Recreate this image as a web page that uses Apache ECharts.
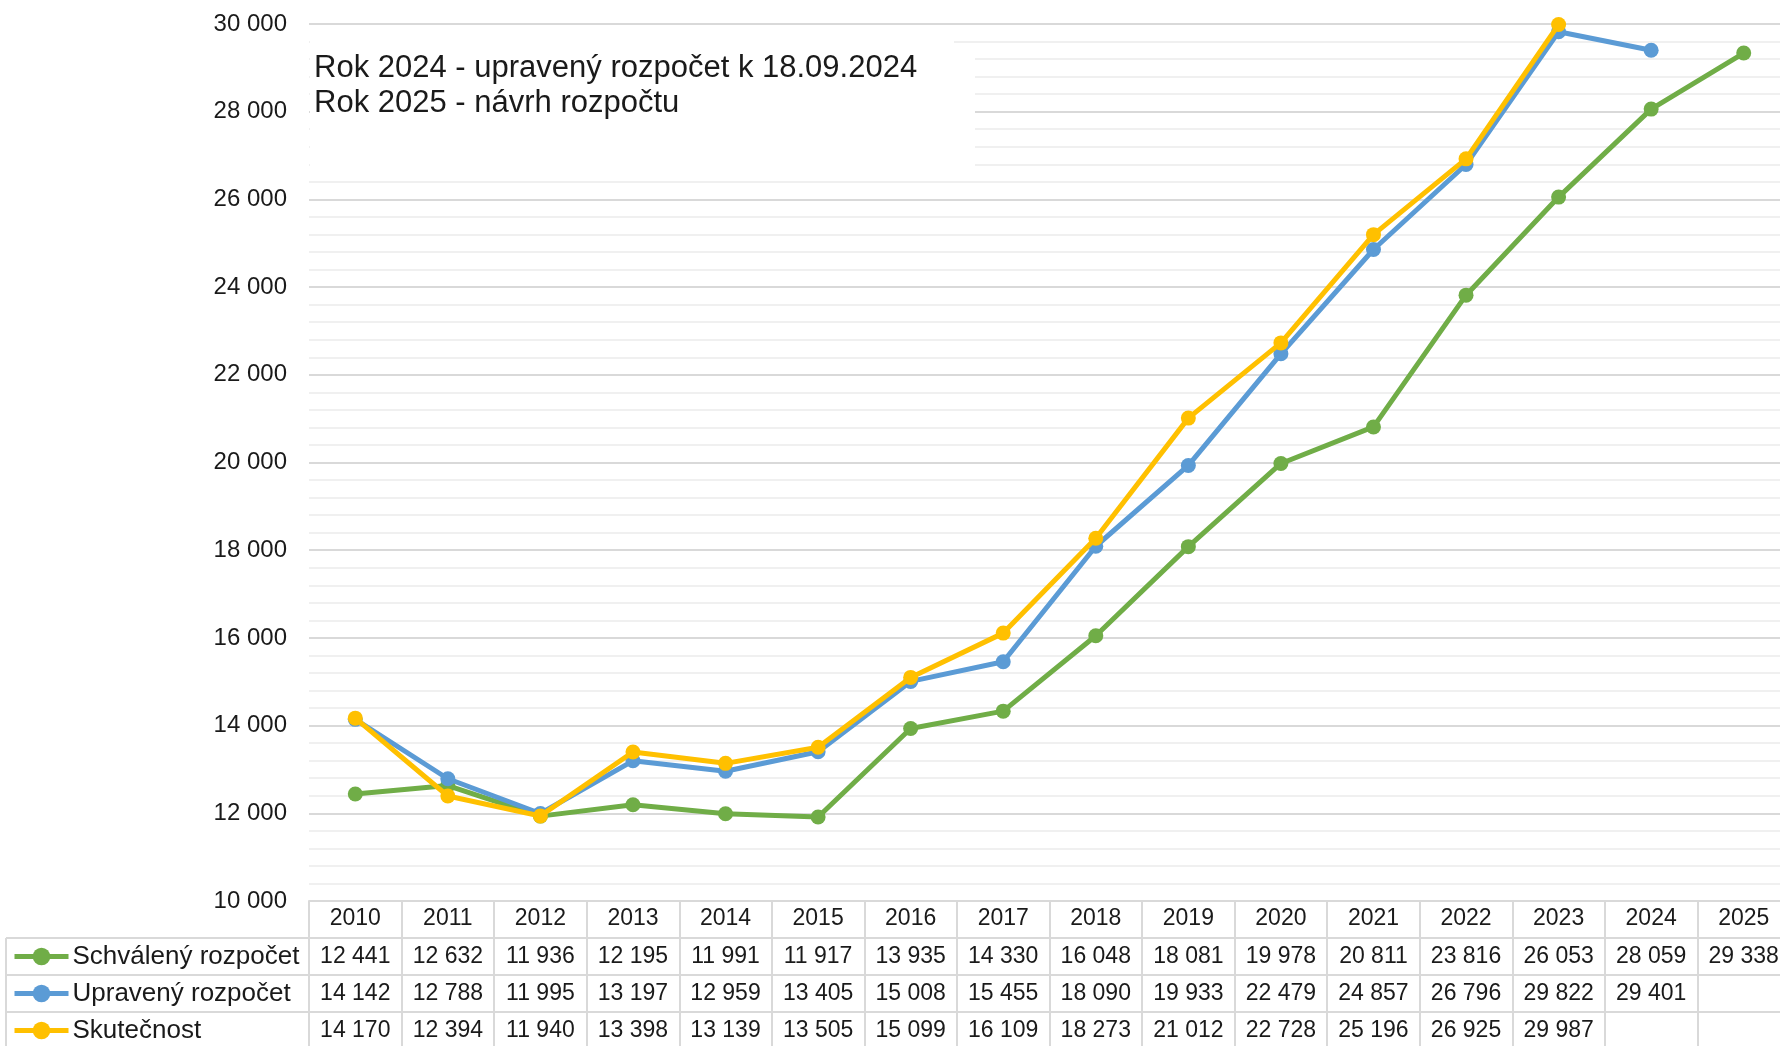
<!DOCTYPE html>
<html><head><meta charset="utf-8">
<script src="https://cdn.jsdelivr.net/npm/echarts@6/dist/echarts.min.js"></script>
<style>html,body{margin:0;padding:0;background:#fff}#c{width:1780px;height:1046px}</style>
</head><body><div id="c"></div>
<script>
const years = ['2010','2011','2012','2013','2014','2015','2016','2017','2018','2019','2020','2021','2022','2023','2024','2025'];
const schvaleny = [12441,12632,11936,12195,11991,11917,13935,14330,16048,18081,19978,20811,23816,26053,28059,29338];
const upraveny = [14142,12788,11995,13197,12959,13405,15008,15455,18090,19933,22479,24857,26796,29822,29401,null];
const skutecnost = [14170,12394,11940,13398,13139,13505,15099,16109,18273,21012,22728,25196,26925,29987,null,null];
const seriesNames = ['Schválený rozpočet','Upravený rozpočet','Skutečnost'];
const seriesData = [schvaleny, upraveny, skutecnost];
const colors = ['#70AD47','#5B9BD5','#FFC000'];
const noteLines = ['Rok 2024 - upravený rozpočet k 18.09.2024','Rok 2025 - návrh rozpočtu'];

const FONT = 'Liberation Sans, Arial, sans-serif';
const TXT = '#1a1a1a';
const fmt = v => (v === null || v === undefined) ? '' : String(v).replace(/\B(?=(\d{3})+(?!\d))/g, ' ');

const GL = 309, GT = 24, GH = 877, GW = 1481, ROW = 37;
const W = 1780, H = 1046;
const chart = echarts.init(document.getElementById('c'), null, {renderer:'canvas'});

const xAxes = [{
  type:'category', data: years, gridIndex:0, position:'bottom',
  boundaryGap:true,
  axisLine:{show:true, lineStyle:{color:'#d9d9d9', width:2}},
  axisTick:{show:true, interval:0, length:145, lineStyle:{color:'#d9d9d9', width:2}},
  axisLabel:{interval:0, margin:18, verticalAlign:'middle', fontSize:23, color:TXT, fontFamily:FONT},
  splitLine:{show:false}
}];
seriesData.forEach((arr, i) => {
  xAxes.push({
    type:'category', data: arr.map(fmt), gridIndex:0, position:'bottom',
    offset: ROW*(i+1), boundaryGap:true,
    axisLine:{show:false}, axisTick:{show:false},
    axisLabel:{interval:0, margin:19, verticalAlign:'middle', fontSize:23, color:TXT, fontFamily:FONT}
  });
});

const legends = seriesNames.map((n, i) => ({
  data:[n], left:12, top: 901 + ROW*(i+1) + ROW/2 - 13, orient:'horizontal',
  padding:0, itemWidth:54, itemHeight:22, itemGap:0,
  lineStyle:{width:5},
  textStyle:{fontSize:26, lineHeight:26, color:TXT, fontFamily:FONT, padding:[0,0,0,-1]},
  selectedMode:false
}));

const graphics = [
  {type:'rect', shape:{x:GL+1, y:35, width:953-GL, height:16}, style:{fill:'#fff'}, z:5},
  {type:'rect', shape:{x:GL+1, y:50, width:974-GL, height:120}, style:{fill:'#fff'}, z:5},
  {type:'text', x:314, y:51, z:6, style:{text: noteLines.join('\n'), font:'31px ' + FONT, lineHeight:35, fill:TXT, verticalAlign:'top'}},
  {type:'line', shape:{x1:6, y1:938, x2:W, y2:938}, style:{stroke:'#d9d9d9', lineWidth:2}, z:3},
  {type:'line', shape:{x1:6, y1:975, x2:W, y2:975}, style:{stroke:'#d9d9d9', lineWidth:2}, z:3},
  {type:'line', shape:{x1:6, y1:1012, x2:W, y2:1012}, style:{stroke:'#d9d9d9', lineWidth:2}, z:3},
  {type:'line', shape:{x1:6, y1:938, x2:6, y2:H}, style:{stroke:'#d9d9d9', lineWidth:2}, z:3}
];

chart.setOption({
  animation:false,
  textStyle:{fontFamily:FONT},
  grid:{left:GL, top:GT, width:GW, height:GH, containLabel:false, outerBoundsMode:'none'},
  legend: legends,
  xAxis: xAxes,
  yAxis:{
    type:'value', min:10000, max:30000, interval:2000,
    axisLine:{show:false}, axisTick:{show:false},
    axisLabel:{margin:22, fontSize:24, color:TXT, fontFamily:FONT, formatter: v => fmt(v)},
    splitLine:{show:true, lineStyle:{color:'#d9d9d9', width:2}},
    minorTick:{show:false, splitNumber:5},
    minorSplitLine:{show:true, lineStyle:{color:'#f0f0f0', width:2}}
  },
  series: seriesNames.map((n, i) => ({
    name:n, type:'line', xAxisIndex:0, data: seriesData[i],
    symbol:'circle', symbolSize:15, showSymbol:true, connectNulls:false,
    lineStyle:{color:colors[i], width:5}, itemStyle:{color:colors[i]},
    emphasis:{disabled:true}, z:10+i
  })),
  graphic: graphics
});
</script></body></html>
